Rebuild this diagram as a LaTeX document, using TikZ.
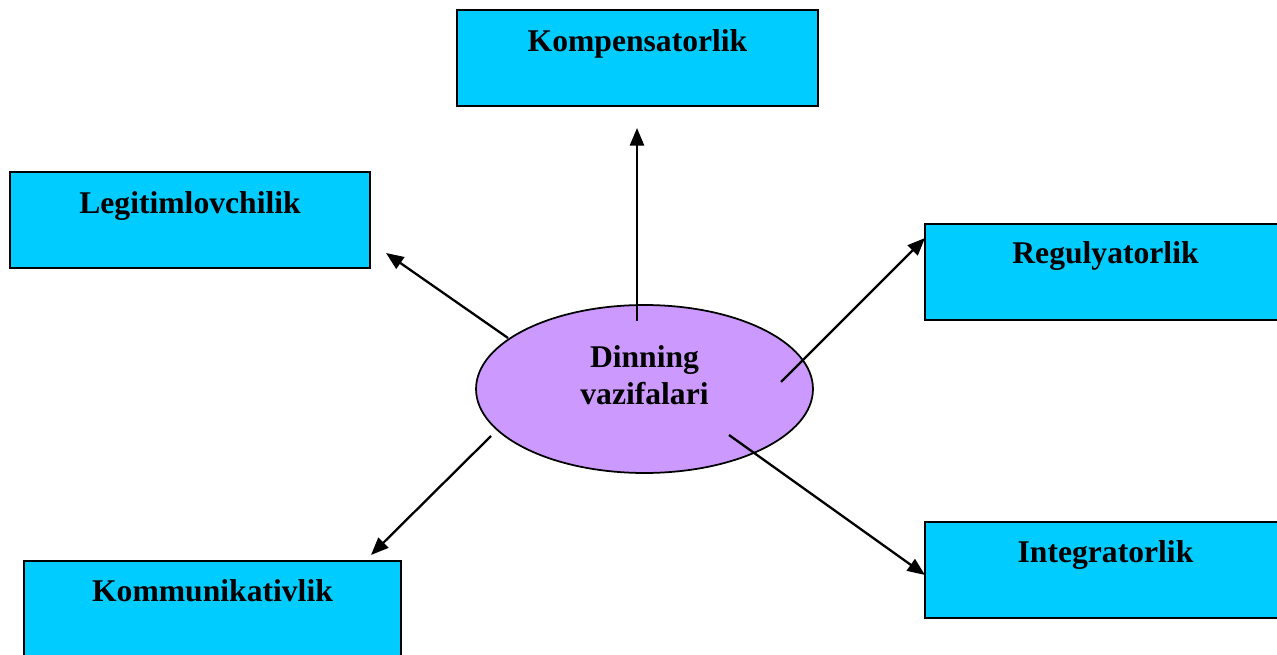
\documentclass[tikz,border=0pt]{standalone}
\usepackage{fontspec}
\setmainfont{Liberation Serif}
\usetikzlibrary{arrows.meta,shapes.geometric}
\definecolor{boxfill}{HTML}{00CCFF}
\definecolor{ovalfill}{HTML}{CC99FF}
\tikzset{
  box/.style={draw=black, fill=boxfill, line width=1.2pt, minimum width=7.22cm, minimum height=1.92cm, inner sep=0pt},
  oval/.style={ellipse, draw=black, fill=ovalfill, line width=1pt, minimum width=6.74cm, minimum height=3.36cm, inner sep=0pt},
  lab/.style={font=\fontsize{18}{21}\selectfont\bfseries, align=center, text=black},
  arr/.style={draw=black, line width=1.3pt, -{Triangle[length=10pt,width=8pt]}},
}

\begin{document}
\begin{tikzpicture}[x=0.02cm, y=-0.02cm]
  \useasboundingbox (0,0) rectangle (1277,655);
  \clip (0,0) rectangle (1277,655);
  % boxes
  \node[box] (komp) at (637.5,58) {};
  \node[lab, anchor=north] (kompT) at ([yshift=-0.29cm]komp.north) {Kompensatorlik};
  \node[box, minimum width=7.2cm] (legit) at (190,220) {};
  \node[lab, anchor=north] (legitT) at ([yshift=-0.29cm]legit.north) {Legitimlovchilik};
  \node[box] (regul) at (1105.5,272) {};
  \node[lab, anchor=north] (regulT) at ([yshift=-0.25cm]regul.north) {Regulyatorlik};
  \node[box] (integ) at (1105.5,570) {};
  \node[lab, anchor=north] (integT) at ([yshift=-0.27cm]integ.north) {Integratorlik};
  \node[box, minimum width=7.54cm] (kommun) at (212.5,609) {};
  \node[lab, anchor=north] (kommunT) at ([yshift=-0.27cm]kommun.north) {Kommunikativlik};
  % centre
  \node[oval] (din) at (644.5,389) {};
  \node[lab] (dinT) at ([yshift=0.27cm]din.center) {Dinning\\vazifalari};
  % arrow ends
  \coordinate (s1) at (637,321); \coordinate (e1) at (637,128);
  \coordinate (s2) at (508,338); \coordinate (e2) at (386,253);
  \coordinate (s3) at (781,382); \coordinate (e3) at (925,238);
  \coordinate (s4) at (729,435); \coordinate (e4) at (925,575);
  \coordinate (s5) at (491,436); \coordinate (e5) at (371,555);
  \draw[arr] (s1) -- (e1);
  \draw[arr] (s2) -- (e2);
  \draw[arr] (s3) -- (e3);
  \draw[arr] (s4) -- (e4);
  \draw[arr] (s5) -- (e5);
\end{tikzpicture}
\end{document}
